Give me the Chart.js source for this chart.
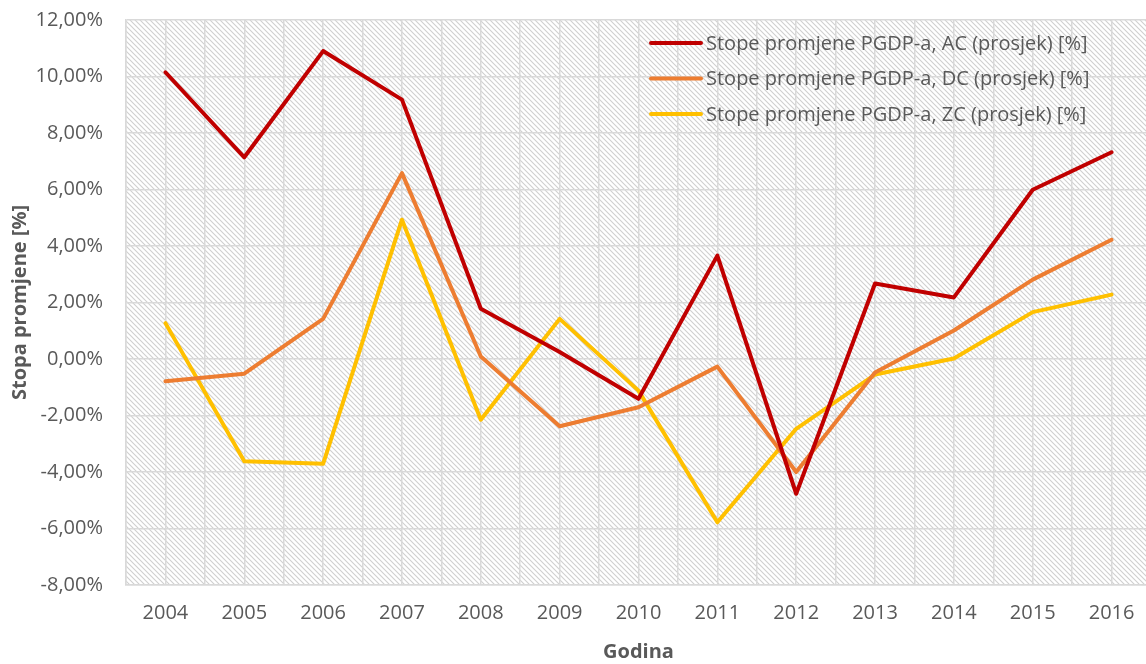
<!DOCTYPE html>
<html>
<head>
<meta charset="utf-8">
<title>Stope promjene PGDP-a</title>
<script src="https://cdn.jsdelivr.net/npm/chart.js@4.4.1/dist/chart.umd.min.js"></script>
<style>
  html, body { margin: 0; padding: 0; background: #fff; overflow: hidden; }
  #pgdpChart { display: block; margin-top: -15px; }
</style>
</head>
<body>
<canvas id="pgdpChart" width="1167" height="679"></canvas>
<script>
const years = [2004, 2005, 2006, 2007, 2008, 2009, 2010, 2011, 2012, 2013, 2014, 2015, 2016];
const seriesNames = [
  "Stope promjene PGDP-a, AC (prosjek) [%]",
  "Stope promjene PGDP-a, DC (prosjek) [%]",
  "Stope promjene PGDP-a, ZC (prosjek) [%]",
];
const acValues = [10.15, 7.14, 10.9, 9.18, 1.78, 0.25, -1.41, 3.66, -4.77, 2.67, 2.18, 5.99, 7.32];
const dcValues = [-0.79, -0.52, 1.42, 6.58, 0.09, -2.38, -1.71, -0.27, -4.0, -0.48, 1.01, 2.81, 4.22];
const zcValues = [1.27, -3.62, -3.71, 4.93, -2.15, 1.42, -1.12, -5.78, -2.47, -0.55, 0.02, 1.66, 2.28];
const yTicks = [-8, -6, -4, -2, 0, 2, 4, 6, 8, 10, 12];

const seriesColors = ["#C00000", "#ED7D31", "#FFC000"];
const textColor = "#595959";
const gridColor = "#D9D9D9";
const fontFamily = "'Open Sans', sans-serif";

function toPoints(values) {
  return years.map((yr, i) => ({ x: yr, y: values[i] }));
}

function formatPercent(v) {
  return v.toFixed(2).replace(".", ",") + "%";
}

// diagonal hatch used behind the plot
function makeHatch() {
  const tile = document.createElement("canvas");
  tile.width = 5;
  tile.height = 5;
  const c = tile.getContext("2d");
  c.fillStyle = "#ffffff";
  c.fillRect(0, 0, 5, 5);
  c.strokeStyle = "#CFCFCF";
  c.lineWidth = 1.1;
  c.beginPath();
  c.moveTo(-1, -1);
  c.lineTo(6, 6);
  c.moveTo(-1, 4);
  c.lineTo(1, 6);
  c.moveTo(4, -1);
  c.lineTo(6, 1);
  c.stroke();
  return c.createPattern(tile, "repeat");
}

const hatchBackground = {
  id: "hatchBackground",
  beforeDraw(chart) {
    const { ctx, chartArea } = chart;
    ctx.save();
    ctx.fillStyle = makeHatch();
    ctx.fillRect(chartArea.left, chartArea.top, chartArea.right - chartArea.left, chartArea.bottom - chartArea.top);
    ctx.restore();
  },
};

// legend sits inside the plot, top right
const insideLegend = {
  id: "insideLegend",
  afterDatasetsDraw(chart) {
    const { ctx, chartArea } = chart;
    const x0 = chartArea.left + 525;
    ctx.save();
    ctx.font = "20px " + fontFamily;
    ctx.textBaseline = "middle";
    ctx.lineCap = "round";
    chart.data.datasets.forEach((ds, i) => {
      const y = chartArea.top + 23 + i * 35.5;
      ctx.strokeStyle = ds.borderColor;
      ctx.lineWidth = 4;
      ctx.beginPath();
      ctx.moveTo(x0, y);
      ctx.lineTo(x0 + 50, y);
      ctx.stroke();
      ctx.fillStyle = textColor;
      ctx.fillText(ds.label, x0 + 55, y + 1);
    });
    ctx.restore();
  },
};

const ctx = document.getElementById("pgdpChart");

const data = {
  datasets: [
    { label: seriesNames[0], data: toPoints(acValues), borderColor: seriesColors[0] },
    { label: seriesNames[1], data: toPoints(dcValues), borderColor: seriesColors[1] },
    { label: seriesNames[2], data: toPoints(zcValues), borderColor: seriesColors[2] },
  ].map((ds) => ({
    ...ds,
    backgroundColor: ds.borderColor,
    borderWidth: 4,
    pointRadius: 0,
    tension: 0,
    borderJoinStyle: "round",
    borderCapStyle: "round",
    clip: false,
  })),
};

const config = {
  type: "line",
  data: data,
  plugins: [hatchBackground, insideLegend],
  options: {
    responsive: false,
    animation: false,
    layout: { padding: { top: 4, right: 0, left: 0, bottom: 0 } },
    scales: {
      x: {
        type: "linear",
        min: years[0] - 0.5,
        max: years[years.length - 1] + 0.5,
        grid: { color: gridColor, lineWidth: 1.5, drawTicks: false },
        border: { color: gridColor, width: 1.5 },
        ticks: {
          stepSize: 0.5,
          autoSkip: false,
          maxTicksLimit: 40,
          maxRotation: 0,
          padding: 16,
          color: textColor,
          font: { family: fontFamily, size: 20 },
          callback: (v) => (Number.isInteger(v) ? String(v) : ""),
        },
        title: {
          display: true,
          text: "Godina",
          color: textColor,
          font: { family: fontFamily, size: 20, weight: "bold" },
          padding: { top: 0, bottom: 0 },
        },
        afterFit: (scale) => { scale.height = 79; },
      },
      y: {
        min: yTicks[0],
        max: yTicks[yTicks.length - 1],
        grid: { color: gridColor, lineWidth: 1.5, drawTicks: false },
        border: { color: gridColor, width: 1.5 },
        afterBuildTicks: (scale) => { scale.ticks = yTicks.map((v) => ({ value: v })); },
        ticks: {
          padding: 23,
          color: textColor,
          font: { family: fontFamily, size: 20 },
          callback: (v) => formatPercent(v),
        },
        title: {
          display: true,
          text: "Stopa promjene [%]",
          color: textColor,
          font: { family: fontFamily, size: 20, weight: "bold" },
          padding: { top: 8, bottom: 8 },
        },
        afterFit: (scale) => { scale.width = 126; },
      },
    },
    plugins: {
      legend: { display: false },
      tooltip: { enabled: false },
    },
  },
};

const pgdpChart = new Chart(ctx, config);
</script>
</body>
</html>
